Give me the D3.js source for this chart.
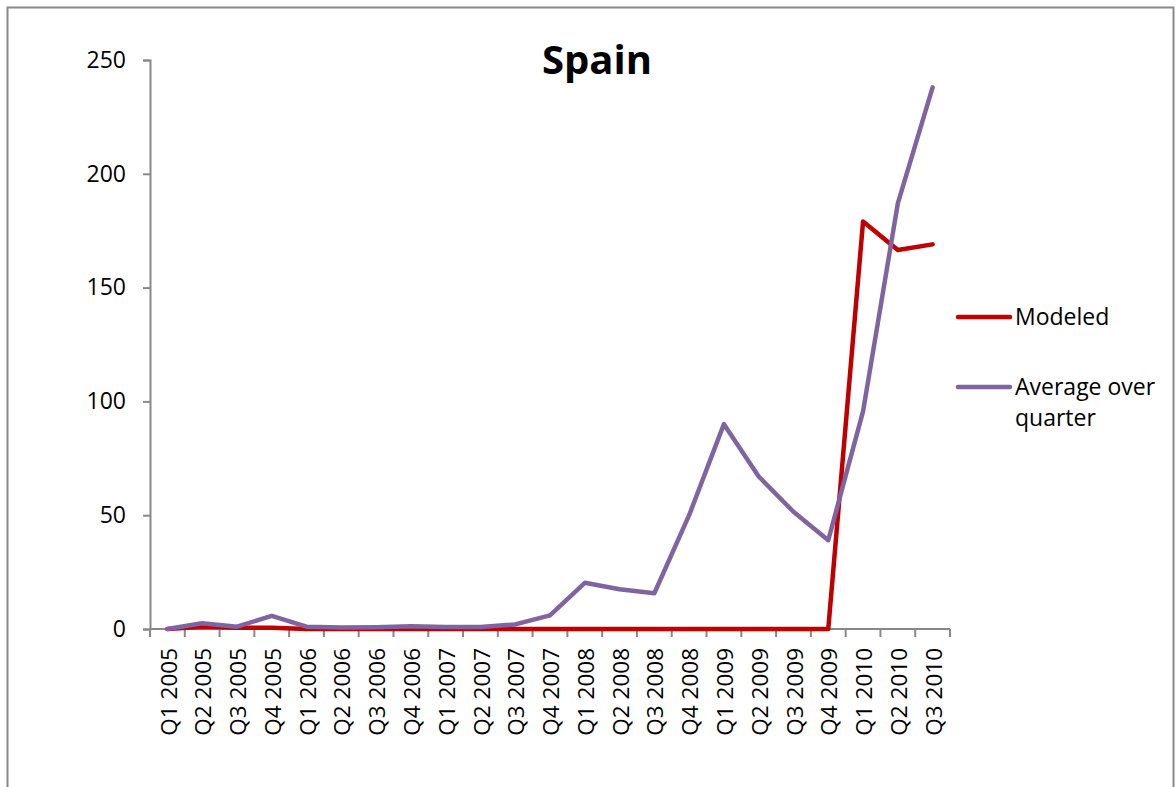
<!DOCTYPE html>
<html>
<head>
<meta charset="utf-8">
<script src="https://cdn.jsdelivr.net/npm/d3@7"></script>
<style>
  html, body { margin: 0; padding: 0; background: #fff; }
  svg { display: block; font-family: "Open Sans", "DejaVu Sans", sans-serif; }
</style>
</head>
<body>
<svg id="chart" width="1176" height="787"></svg>
<script>
const categories = ["Q1 2005","Q2 2005","Q3 2005","Q4 2005","Q1 2006","Q2 2006","Q3 2006","Q4 2006",
  "Q1 2007","Q2 2007","Q3 2007","Q4 2007","Q1 2008","Q2 2008","Q3 2008","Q4 2008",
  "Q1 2009","Q2 2009","Q3 2009","Q4 2009","Q1 2010","Q2 2010","Q3 2010"];
const modeled = [0,1,0.5,0.5,0,0,0,0,0,0,0,0,0,0,0,0,0,0,0,0,179,166.5,169];
const averageOverQuarter = [0,2.5,1,5.8,1,0.7,0.8,1.2,0.9,0.9,2,6,20.3,17.5,15.7,50,90,67,51.5,39,95.6,187,238];
const yTicks = [0,50,100,150,200,250];
const seriesNames = ["Modeled","Average over quarter"];
const seriesColors = ["#C00000","#8064A2"];

const svg = d3.select("#chart");
const plotLeft = 150, plotRight = 950, plotTop = 60, plotBottom = 629;

// outer frame
svg.append("rect").attr("x",7.5).attr("y",7.5).attr("width",1166).attr("height",800)
  .attr("fill","none").attr("stroke","#888").attr("stroke-width",2);

const x = d3.scaleBand().domain(categories).range([plotLeft,plotRight]).padding(0);
const y = d3.scaleLinear().domain([0,250]).range([plotBottom,plotTop]);

// y axis
const yAxis = svg.append("g").attr("transform",`translate(${plotLeft},0)`)
  .call(d3.axisLeft(y).tickValues(yTicks).tickSize(7).tickPadding(17));
yAxis.select(".domain").attr("stroke","#888").attr("stroke-width",2);
yAxis.selectAll(".tick line").attr("stroke","#888").attr("stroke-width",2);
yAxis.selectAll(".tick text").attr("font-size",23).attr("fill","#000")
  .attr("font-family","'Open Sans', sans-serif");

// x axis (boundary ticks)
const xAxisG = svg.append("g").attr("transform",`translate(0,${plotBottom})`);
xAxisG.append("line").attr("x1",plotLeft).attr("x2",plotRight).attr("y1",0).attr("y2",0)
  .attr("stroke","#888").attr("stroke-width",2);
const boundaries = categories.map(c => x(c)).concat([x(categories[categories.length-1]) + x.bandwidth()]);
xAxisG.selectAll("line.tk").data(boundaries).enter().append("line").attr("class","tk")
  .attr("x1",d=>d).attr("x2",d=>d).attr("y1",0).attr("y2",8)
  .attr("stroke","#888").attr("stroke-width",2);
xAxisG.selectAll("text").data(categories).enter().append("text")
  .attr("transform",d=>`translate(${x(d)+x.bandwidth()/2+1},19) rotate(-90)`)
  .attr("text-anchor","end").attr("dy","0.36em")
  .attr("font-size",22.5).attr("fill","#000").text(d=>d);

// lines
const line = d3.line().x((d,i)=>x(categories[i])+x.bandwidth()/2).y(d=>y(d));
[modeled, averageOverQuarter].forEach((s,k)=>{
  svg.append("path").datum(s).attr("d",line).attr("fill","none")
    .attr("stroke",seriesColors[k]).attr("stroke-width",4.5)
    .attr("stroke-linejoin","round").attr("stroke-linecap","round");
});

// title
svg.append("text").attr("x",597).attr("y",74).attr("text-anchor","middle")
  .attr("font-size",40).attr("font-weight","bold").attr("fill","#000").text("Spain");

// legend
const lg = svg.append("g");
const legendY = [317, 387];
lg.selectAll("line").data(seriesNames).enter().append("line")
  .attr("x1",958).attr("x2",1010).attr("y1",(d,i)=>legendY[i]).attr("y2",(d,i)=>legendY[i])
  .attr("stroke",(d,i)=>seriesColors[i]).attr("stroke-width",4.5).attr("stroke-linecap","round");
lg.append("text").attr("x",1015).attr("y",legendY[0]).attr("dy","0.35em")
  .attr("font-size",23).attr("fill","#000").text(seriesNames[0]);
const t2 = lg.append("text").attr("x",1015).attr("y",legendY[1]).attr("dy","0.35em")
  .attr("font-size",23).attr("fill","#000");
t2.append("tspan").attr("x",1015).text("Average over");
t2.append("tspan").attr("x",1015).attr("dy",31).text("quarter");
</script>
</body>
</html>
